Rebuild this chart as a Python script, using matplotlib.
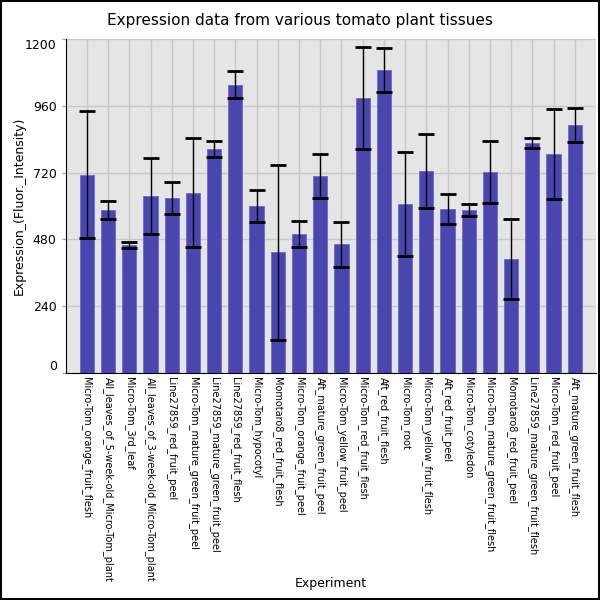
import matplotlib
matplotlib.use("Agg")
import matplotlib.pyplot as plt
import numpy as np

# Datos
tissues = [
    "Micro-Tom_orange_fruit_flesh",
    "All_leaves_of_5-week-old_Micro-Tom_plant",
    "Micro-Tom_3rd_leaf",
    "All_leaves_of_3-week-old_Micro-Tom_plant",
    "Line27859_red_fruit_peel",
    "Micro-Tom_mature_green_fruit_peel",
    "Line27859_mature_green_fruit_peel",
    "Line27859_red_fruit_flesh",
    "Micro-Tom_hypocotyl",
    "Momotaro8_red_fruit_flesh",
    "Micro-Tom_orange_fruit_peel",
    "Aft_mature_green_fruit_peel",
    "Micro-Tom_yellow_fruit_peel",
    "Micro-Tom_red_fruit_flesh",
    "Aft_red_fruit_flesh",
    "Micro-Tom_root",
    "Micro-Tom_yellow_fruit_flesh",
    "Aft_red_fruit_peel",
    "Micro-Tom_cotyledon",
    "Micro-Tom_mature_green_fruit_flesh",
    "Momotaro8_red_fruit_peel",
    "Line27859_mature_green_fruit_flesh",
    "Micro-Tom_red_fruit_peel",
    "Aft_mature_green_fruit_flesh",
]
expression = [712, 586, 460, 636, 629, 647, 805, 1036, 600, 434, 499, 708,
              463, 989, 1090, 607, 726, 589, 586, 722, 409, 827, 787, 892]
errors = [228, 33, 12, 135, 57, 196, 29, 49, 59, 314, 47, 80,
          81, 183, 79, 188, 134, 54, 22, 112, 143, 19, 163, 61]
yticks = [0, 240, 480, 720, 960, 1200]

fig = plt.figure(figsize=(6, 6), dpi=100)
fig.patch.set_edgecolor("black")
fig.patch.set_linewidth(1.5)

ax = fig.add_axes([0.1095, 0.3783, 0.8838, 0.5567])
ax.set_facecolor("#e5e5e5")
ax.set_axisbelow(True)
ax.grid(True, color="#c8c8c8", linewidth=1)

x = np.arange(len(tissues))
ax.bar(x, expression, width=0.67, color="#4a46b0", edgecolor="#6e6bc4", linewidth=0.6)
ax.errorbar(x, expression, yerr=errors, fmt="none", ecolor="black",
            elinewidth=1, capsize=6, capthick=2)

ax.set_xlim(-1, 24)
ax.set_ylim(0, 1200)
ax.set_yticks(yticks)
ax.set_xticks(x)
ax.set_xticklabels(tissues, rotation=-90, fontsize=7, va="top", ha="center")
ax.tick_params(axis="x", length=0, pad=3)
ax.tick_params(axis="y", length=3, labelsize=9, color="#999999")

# las etiquetas extremas quedan dentro del eje
ylabels = ax.get_yticklabels()
ylabels[0].set_va("bottom")
ylabels[-1].set_va("top")

for side in ["top", "right"]:
    ax.spines[side].set_visible(False)
ax.spines["left"].set_color("black")
ax.spines["bottom"].set_color("black")

ax.set_ylabel("Expression_(Fluor._Intensity)", fontsize=9)
ax.yaxis.set_label_coords(-0.076, 0.5)
fig.text(0.552, 1 - 584 / 600, "Experiment", ha="center", va="center", fontsize=9)
fig.text(0.5, 1 - 20 / 600, "Expression data from various tomato plant tissues",
         ha="center", va="center", fontsize=11)

fig.savefig("out.png", dpi=100, edgecolor=fig.get_edgecolor())
